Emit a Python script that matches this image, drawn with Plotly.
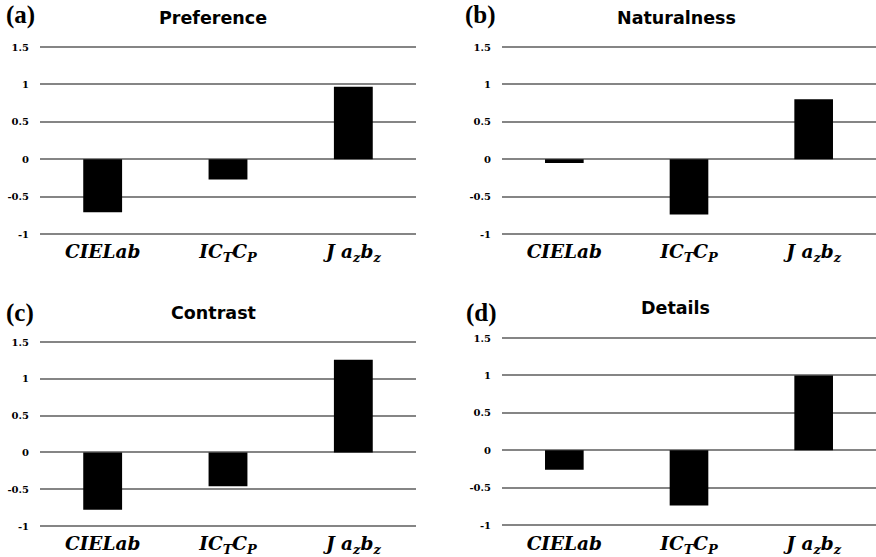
import plotly.graph_objects as go

# Color-space categories shown on every panel
categories = ["CIELab", "ICtCp", "Jazbz"]
category_labels = [
    "CIELab",
    "IC<sub>T</sub>C<sub>P</sub>",
    "J a<sub>z</sub>b<sub>z</sub>",
]

# Scores per attribute
preference = [-0.71, -0.27, 0.97]
naturalness = [-0.05, -0.74, 0.80]
contrast = [-0.78, -0.46, 1.26]
details = [-0.26, -0.74, 1.00]

titles = ["Preference", "Naturalness", "Contrast", "Details"]
panel_tags = ["(a)", "(b)", "(c)", "(d)"]
series = [preference, naturalness, contrast, details]

tick_vals = [-1, -0.5, 0, 0.5, 1, 1.5]
tick_text = ["-1", "-0.5", "0", "0.5", "1", "1.5"]

W, H = 876, 557
Y_LO, Y_HI = -1.06, 1.56

# Panel geometry in pixels: (x_left, x_right, y_pixel_of_1.5, y_pixel_of_-1)
panels = [
    (40, 416, 47, 234),
    (502, 876, 47, 234),
    (40, 416, 342, 526),
    (502, 876, 338, 525),
]
label_standoff = [0, 0, 0, 1]
title_pos = [(213, 18), (676, 18), (213, 313), (675, 308)]
tag_pos = [(4, 15), (463, 15), (4, 313), (464, 313)]


def y_domain(p_top, p_bot):
    per = (p_bot - p_top) / 2.5
    top_px = p_top - (Y_HI - 1.5) * per
    bot_px = p_bot + (-1 - Y_LO) * per
    return [(H - bot_px) / H, (H - top_px) / H]


fig = go.Figure()
annotations = []
for i, (vals, (xl, xr, pt, pb)) in enumerate(zip(series, panels)):
    n = "" if i == 0 else str(i + 1)
    fig.add_trace(go.Bar(
        x=categories, y=vals,
        marker=dict(color="black", line=dict(width=0)),
        xaxis="x" + n, yaxis="y" + n, showlegend=False,
    ))
    fig.update_layout(**{
        "xaxis" + n: dict(
            domain=[xl / W, min(xr / W, 1.0)],
            anchor="y" + n,
            tickvals=categories, ticktext=category_labels,
            tickfont=dict(family="DejaVu Serif", size=18.5, color="black",
                          weight="bold", style="italic"),
            showgrid=False, showline=False, zeroline=False, ticks="",
            ticklabelstandoff=label_standoff[i], automargin=False,
        ),
        "yaxis" + n: dict(
            domain=y_domain(pt, pb),
            anchor="x" + n,
            range=[Y_LO, Y_HI],
            tickvals=tick_vals, ticktext=tick_text,
            tickfont=dict(family="DejaVu Serif", size=10, color="black",
                          weight="bold"),
            showgrid=True, gridcolor="#858585", gridwidth=1.6,
            zeroline=True, zerolinecolor="#858585", zerolinewidth=1.6,
            showline=False, ticks="", ticklabelstandoff=10, automargin=False,
        ),
    })
    tx, ty = title_pos[i]
    annotations.append(dict(
        text=titles[i], x=tx / W, y=1 - ty / H, xref="paper", yref="paper",
        xanchor="center", yanchor="middle", showarrow=False,
        font=dict(family="DejaVu Sans", size=17.5, color="black", weight="bold"),
    ))
    gx, gy = tag_pos[i]
    annotations.append(dict(
        text=panel_tags[i], x=gx / W, y=1 - gy / H, xref="paper", yref="paper",
        xanchor="left", yanchor="middle", showarrow=False,
        font=dict(family="Liberation Serif", size=25, color="black", weight="bold"),
    ))

fig.update_layout(
    width=W, height=H,
    margin=dict(l=0, r=0, t=0, b=0, autoexpand=False),
    paper_bgcolor="white", plot_bgcolor="white",
    bargap=0.69,
    annotations=annotations,
)

fig.write_html("out.html")
